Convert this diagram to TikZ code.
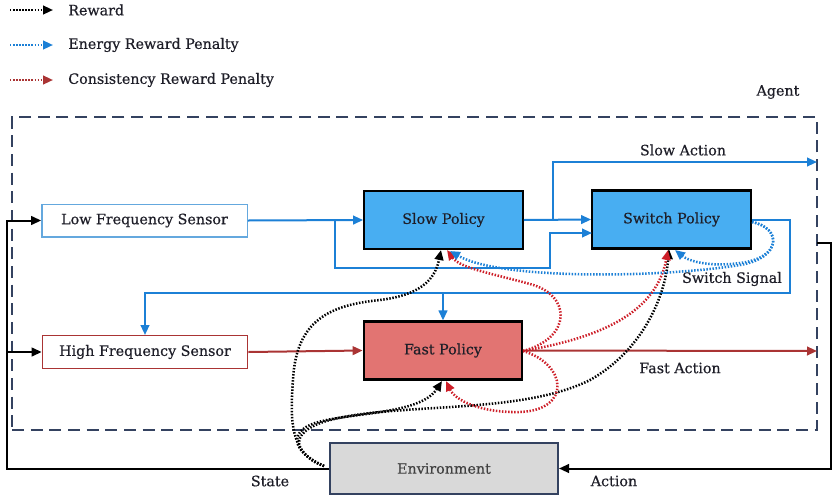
\documentclass[tikz,border=0pt]{standalone}
\usepackage{fontspec}
\setmainfont{DejaVu Serif}[FakeBold=0.5]
\usetikzlibrary{arrows.meta,calc}
\definecolor{lblue}{RGB}{28,128,214}
\definecolor{pblue}{RGB}{72,174,242}
\definecolor{pred}{RGB}{226,116,114}
\definecolor{dred}{RGB}{170,52,52}
\definecolor{cred}{RGB}{205,30,40}
\definecolor{navy}{RGB}{52,66,96}
\definecolor{egray}{RGB}{217,217,217}
\definecolor{sensb}{RGB}{100,168,222}
\definecolor{txt}{RGB}{30,30,40}
\begin{document}
\begin{tikzpicture}[x=0.75pt,y=-0.75pt,
  font=\fontsize{10.7}{13}\selectfont, text=txt,
  tipa/.style={-{Triangle[length=7.5pt,width=6.5pt]}},
  sensor/.style={draw, line width=1pt, fill=white, minimum width=154pt, minimum height=24.5pt, inner sep=0pt},
  policy/.style={draw=black, line width=1.6pt, minimum width=119pt, minimum height=43.5pt, inner sep=0pt},
  bflow/.style={lblue, line width=1.5pt},
  rflow/.style={dred, line width=1.5pt},
  kflow/.style={black, line width=1.5pt},
  dots/.style={line width=1.9pt, dash pattern=on 1.1pt off 1.2pt, tipa},
  lbl/.style={inner sep=0pt}
]
\useasboundingbox (0,0) rectangle (833,497);

% legend
\coordinate (l1a) at (10,10); \coordinate (l1b) at (53,10);
\coordinate (l2a) at (10,45); \coordinate (l2b) at (53,45);
\coordinate (l3a) at (10,80); \coordinate (l3b) at (53,80);
\draw[dots, black, line width=1.6pt] (l1a) -- (l1b);
\draw[dots, lblue, line width=1.6pt] (l2a) -- (l2b);
\draw[dots, dred, line width=1.6pt] (l3a) -- (l3b);
\node[lbl, anchor=west] (t1) at (68,10) {Reward};
\node[lbl, anchor=west] (t2) at (68,45) {Energy Reward Penalty};
\node[lbl, anchor=west] (t3) at (68,80) {Consistency Reward Penalty};

% agent box
\node[draw=navy, line width=1.5pt, dash pattern=on 9pt off 5pt, minimum width=603.75pt, minimum height=234.75pt, inner sep=0pt] (agent) at (414.5,273.5) {};
\node[lbl] (agentlbl) at (778,92) {Agent};

% nodes
\node[sensor, draw=sensb] (lfs) at (144.5,220.5) {Low Frequency Sensor};
\node[sensor, draw=dred] (hfs) at (145,352) {High Frequency Sensor};
\node[policy, fill=pblue] (slow) at (443.5,220) {Slow Policy};
\node[policy, fill=pblue] (switch) at (671.5,219.5) {Switch Policy};
\node[policy, fill=pred] (fast) at (443,350.5) {Fast Policy};
\node[draw=navy, line width=1.5pt, fill=egray, minimum width=171pt, minimum height=38pt, inner sep=0pt, text=black!75] (env) at (444,468.5) {Environment};

% blue flows
\coordinate (b1) at (335,220.5);
\coordinate (b1d) at (550,268);
\coordinate (sw2) at (592,233);
\draw[bflow, tipa] (lfs.east) -- (slow.west);
\draw[bflow, tipa] (b1) |- (b1d) |- (sw2);
\draw[bflow, tipa] (slow.east) -- (switch.west);
\coordinate (b2) at (553,219.5);
\coordinate (sa) at (817,162);
\draw[bflow, tipa] (b2) |- (sa);
\node[lbl] (salbl) at (683,150) {Slow Action};
\coordinate (s1) at (790,219.5);
\coordinate (s2) at (790,293);
\draw[bflow, tipa] (switch.east) -- (s1) -- (s2) -| (hfs.north);
\draw[bflow, tipa] (fast.north |- s2) -- (fast.north);
\node[lbl] (sslbl) at (732,279) {Switch Signal};

% red flows
\coordinate (fa) at (817,351);
\draw[rflow, tipa] (hfs.east) -- (fast.west);
\draw[rflow, tipa] (fast.east) -- (fa);
\node[lbl] (falbl) at (680,368) {Fast Action};

% black flows
\coordinate (lx) at (7,220.5);
\draw[kflow, tipa] (env.west) -| (lx) -- (lfs.west);
\draw[kflow, tipa] (lx |- hfs.west) -- (hfs.west);
\coordinate (r1) at (817,243);
\coordinate (r2) at (831,243);
\draw[kflow, tipa] (r1) -- (r2) |- (env.east);
\node[lbl] (stlbl) at (270,481) {State};
\node[lbl] (aclbl) at (614,481) {Action};

% reward (black dotted)
\coordinate (e0) at (324,466);
\coordinate (sb) at (441,250);
\coordinate (fb) at (442,381);
\coordinate (wb) at (669,249);
\draw[dots, black] (e0) .. controls (290,455) and (290,420) .. (293,380)
  .. controls (296,320) and (330,305) .. (380,300)
  .. controls (420,295) and (435,280) .. (sb);
\draw[dots, black] (e0) .. controls (292,452) and (288,432) .. (315,423)
  .. controls (350,412) and (420,415) .. (fb);
\draw[dots, black] (e0) .. controls (288,450) and (292,430) .. (330,420)
  .. controls (400,402) and (520,415) .. (590,380)
  .. controls (640,352) and (665,300) .. (wb);

% consistency (red dotted)
\coordinate (fe) at (523,351);
\coordinate (sb2) at (447,250);
\coordinate (fb2) at (446,381);
\coordinate (wb2) at (668,250);
\draw[dots, cred] (fe) .. controls (572,338) and (572,295) .. (530,284)
  .. controls (490,273) and (460,268) .. (sb2);
\draw[dots, cred] (fe) .. controls (567,364) and (572,410) .. (520,412)
  .. controls (480,413) and (455,400) .. (fb2);
\draw[dots, cred] (fe) .. controls (585,340) and (655,320) .. (wb2);

% energy (blue dotted)
\coordinate (we) at (752,222);
\coordinate (wb3) at (675,250);
\coordinate (sb3) at (450,251);
\draw[dots, lblue] (we) .. controls (782,228) and (782,258) .. (740,263)
  .. controls (712,267) and (690,262) .. (wb3);
\draw[dots, lblue] (we) .. controls (782,228) and (782,258) .. (740,265)
  .. controls (660,278) and (500,280) .. (sb3);
\end{tikzpicture}
\end{document}
